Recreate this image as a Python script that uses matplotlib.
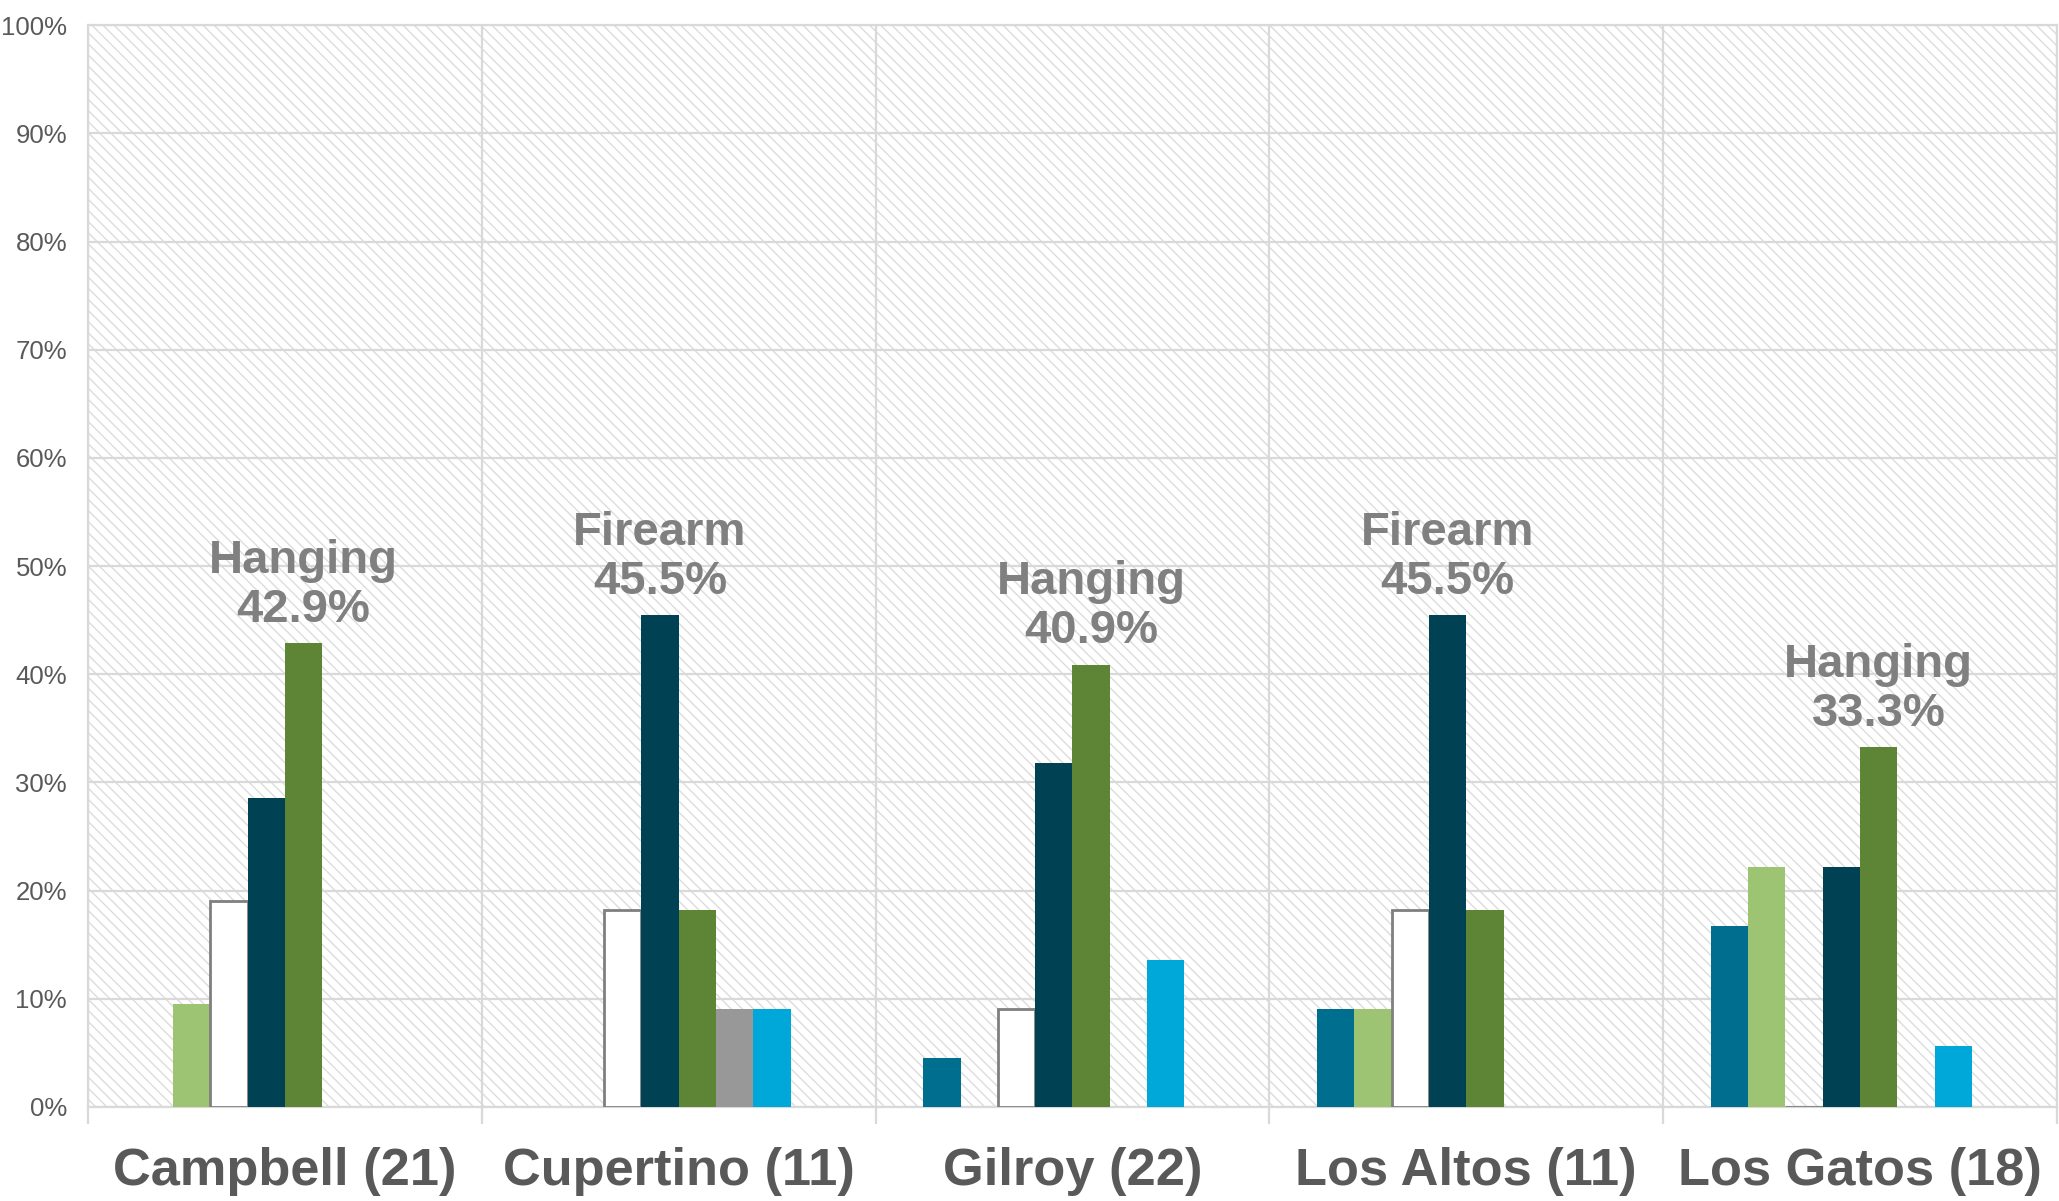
import numpy as np
import matplotlib
matplotlib.use("Agg")
import matplotlib.pyplot as plt
from matplotlib.patches import Rectangle
from matplotlib.ticker import FixedLocator, PercentFormatter

# --- data: share of deaths by method, per city (% of city total) ---
cities = ["Campbell (21)", "Cupertino (11)", "Gilroy (22)", "Los Altos (11)", "Los Gatos (18)"]
method_names = ["Method A", "Method B", "Method C", "Firearm", "Hanging", "Method F", "Method G"]

method_a = [0.0, 0.0, 4.5, 9.1, 16.7]
method_b = [9.5, 0.0, 0.0, 9.1, 22.2]
method_c = [19.0, 18.2, 9.1, 18.2, 0.0]
firearm = [28.6, 45.5, 31.8, 45.5, 22.2]
hanging = [42.9, 18.2, 40.9, 18.2, 33.3]
method_f = [0.0, 9.1, 0.0, 0.0, 0.0]
method_g = [0.0, 9.1, 13.6, 0.0, 5.6]

series = [method_a, method_b, method_c, firearm, hanging, method_f, method_g]
face_colors = ["#006E8F", "#9DC472", "#FFFFFF", "#004254", "#5E8536", "#989898", "#00A8D9"]
edge_colors = ["none", "none", "#7F7F7F", "none", "none", "none", "none"]
yticks = np.arange(0, 101, 10)

# --- styling ---
plt.rcParams["hatch.linewidth"] = 1.0
plt.rcParams["hatch.color"] = "#DCDCDC"
grid_col = "#D9D9D9"
n_slots = 8          # chart reserves one extra (empty) slot per group
bar_w = 0.0947

fig = plt.figure(figsize=(20.59, 12.01), dpi=100)
ax = fig.add_axes([0.0427, 0.0783, 0.9563, 0.9007])

x = np.arange(len(cities))
ax.set_xlim(-0.5, len(cities) - 0.5)
ax.set_ylim(0, 100)

# hatched plot-area background
ax.add_patch(Rectangle((0, 0), 1, 1, transform=ax.transAxes, facecolor="white",
                       edgecolor="#DCDCDC", hatch="\\\\\\", lw=0, zorder=0.1))

for k, vals in enumerate(series):
    offs = (k - n_slots / 2 + 0.5) * bar_w
    ax.bar(x + offs, vals, width=bar_w, color=face_colors[k],
           edgecolor=edge_colors[k], linewidth=2 if edge_colors[k] != "none" else 0,
           zorder=3)

# label the tallest bar in each group
vals_arr = np.array(series)
for i in range(len(cities)):
    k = int(np.argmax(vals_arr[:, i]))
    offs = (k - n_slots / 2 + 0.5) * bar_w
    ax.annotate(f"{method_names[k]}\n{vals_arr[k, i]:.1f}%",
                xy=(x[i] + offs, vals_arr[k, i]), xytext=(0, 8),
                textcoords="offset points", ha="center", va="bottom",
                fontsize=34, fontweight="bold", color="#808080",
                family=["Liberation Sans", "DejaVu Sans"], linespacing=1.15,
                zorder=4)

# grid & axes
ax.set_axisbelow(True)
ax.yaxis.set_major_locator(FixedLocator(yticks))
ax.yaxis.set_major_formatter(PercentFormatter(decimals=0))
ax.grid(axis="y", color=grid_col, lw=1.6, zorder=0.5)
ax.xaxis.set_minor_locator(FixedLocator(np.arange(-0.5, len(cities), 1.0)))
ax.grid(axis="x", which="minor", color=grid_col, lw=1.6, zorder=0.5)
for s in ax.spines.values():
    s.set_color(grid_col)
    s.set_linewidth(1.6)

ax.set_xticks(x)
ax.set_xticklabels(cities, fontsize=37.7, fontweight="bold", color="#595959",
                   family=["Liberation Sans", "DejaVu Sans"])
ax.tick_params(axis="x", which="major", length=0, pad=29)
ax.tick_params(axis="x", which="minor", length=12, width=1.6, color=grid_col)
ax.tick_params(axis="y", length=0, pad=15, labelsize=18.5, labelcolor="#595959")
for lab in ax.get_yticklabels():
    lab.set_family(["Liberation Sans Narrow", "Liberation Sans", "DejaVu Sans"])

fig.savefig("out.png", dpi=100, facecolor="white")
